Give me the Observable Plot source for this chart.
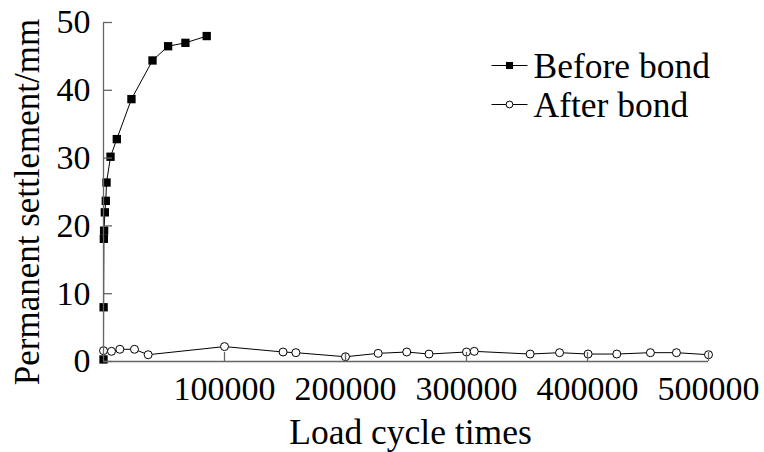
<!DOCTYPE html>
<html>
<head>
<meta charset="utf-8">
<script src="https://cdn.jsdelivr.net/npm/d3@7"></script>
<script src="https://cdn.jsdelivr.net/npm/@observablehq/plot@0.6"></script>
<style>
  html, body { margin: 0; padding: 0; background: #fff; }
  svg { display: block; }
  svg, svg text { font-family: "Liberation Serif", "Times New Roman", serif !important; }
</style>
</head>
<body>
<div id="chart"></div>
<script>
// ---- data ----
const beforeCycles = [0, 100, 300, 500, 1100, 1900, 2500, 5800, 11000, 23100, 40500, 53400, 67700, 85300];
const beforeSettlement = [0.3, 8.0, 18.1, 19.3, 22.0, 23.7, 26.4, 30.2, 32.8, 38.7, 44.4, 46.5, 47.0, 48.0];

const afterCycles = [0, 6600, 13500, 25600, 36900, 100000, 148400, 159000, 200000, 227000, 250600, 269000, 300000, 306400, 352600, 376900, 400500, 424200, 452000, 473500, 500000];
const afterSettlement = [1.6, 1.5, 1.8, 1.8, 1.0, 2.2, 1.4, 1.3, 0.7, 1.2, 1.4, 1.1, 1.4, 1.5, 1.1, 1.3, 1.1, 1.1, 1.3, 1.3, 1.0];

const xTicks = [100000, 200000, 300000, 400000, 500000];
const yTicks = [0, 10, 20, 30, 40, 50];
const seriesNames = ["Before bond", "After bond"];
const xLabel = "Load cycle times";
const yLabel = "Permanent settlement/mm";

// ---- tables built from the arrays ----
const before = beforeCycles.map((x, i) => ({x, y: beforeSettlement[i]}));
const after = afterCycles.map((x, i) => ({x, y: afterSettlement[i]}));

const axisColor = "#666666";
const legendLine = {draw(ctx) { ctx.moveTo(-18, 0); ctx.lineTo(18, 0); }};

const chart = Plot.plot({
  width: 764,
  height: 452,
  marginLeft: 103,
  marginRight: 56,
  marginTop: 22,
  marginBottom: 91,
  style: {
    fontFamily: "Liberation Serif, Times New Roman, serif",
    fontSize: "34px",
    color: "#000",
    background: "#fff"
  },
  x: {domain: [0, 500000]},
  y: {domain: [0, 50]},
  marks: [
    // After bond series
    Plot.line(after, {x: "x", y: "y", stroke: "#000", strokeWidth: 1}),
    Plot.dot(after, {x: "x", y: "y", r: 4, fill: "#fff", stroke: "#000", strokeWidth: 1}),
    // Before bond series
    Plot.line(before, {x: "x", y: "y", stroke: "#000", strokeWidth: 1}),
    Plot.dot(before, {x: "x", y: "y", symbol: "square", r: 4.7, fill: "#000", stroke: "none"}),
    // axis lines
    Plot.ruleX([0], {y1: 0, y2: 50, stroke: axisColor, strokeWidth: 1.3}),
    Plot.ruleY([0], {x1: 0, x2: 500000, stroke: axisColor, strokeWidth: 1.3}),
    // axes with inward ticks
    Plot.axisX(xTicks, {tickSize: -9, tickPadding: 23, stroke: axisColor, strokeWidth: 1.3, fill: "#000", label: null, tickFormat: d => String(d)}),
    Plot.axisY(yTicks, {tickSize: -9, tickPadding: 22, stroke: axisColor, strokeWidth: 1.3, fill: "#000", label: null, tickFormat: d => String(d)}),
    // axis titles
    Plot.text([yLabel], {frameAnchor: "left", rotate: -90, dx: -76, dy: 10, textAnchor: "middle", lineAnchor: "middle", fontSize: 35, text: d => d, fill: "#000"}),
    Plot.text([xLabel], {frameAnchor: "bottom", dx: 4.5, dy: 71, textAnchor: "middle", lineAnchor: "middle", fontSize: 35.5, text: d => d, fill: "#000"}),
    // legend
    Plot.dot([0], {frameAnchor: "top-left", dx: 406, dy: 43, symbol: legendLine, stroke: "#000", strokeWidth: 1, fill: "none"}),
    Plot.dot([0], {frameAnchor: "top-left", dx: 406, dy: 43, symbol: "square", r: 4, fill: "#000", stroke: "none"}),
    Plot.text([seriesNames[0]], {frameAnchor: "top-left", dx: 430, dy: 44, textAnchor: "start", lineAnchor: "middle", fontSize: 35.5, text: d => d, fill: "#000"}),
    Plot.dot([0], {frameAnchor: "top-left", dx: 406, dy: 82, symbol: legendLine, stroke: "#000", strokeWidth: 1, fill: "none"}),
    Plot.dot([0], {frameAnchor: "top-left", dx: 406, dy: 82, r: 3.4, fill: "#fff", stroke: "#000", strokeWidth: 1}),
    Plot.text([seriesNames[1]], {frameAnchor: "top-left", dx: 430, dy: 83, textAnchor: "start", lineAnchor: "middle", fontSize: 35.5, text: d => d, fill: "#000"})
  ]
});

document.getElementById("chart").appendChild(chart);
</script>
</body>
</html>
